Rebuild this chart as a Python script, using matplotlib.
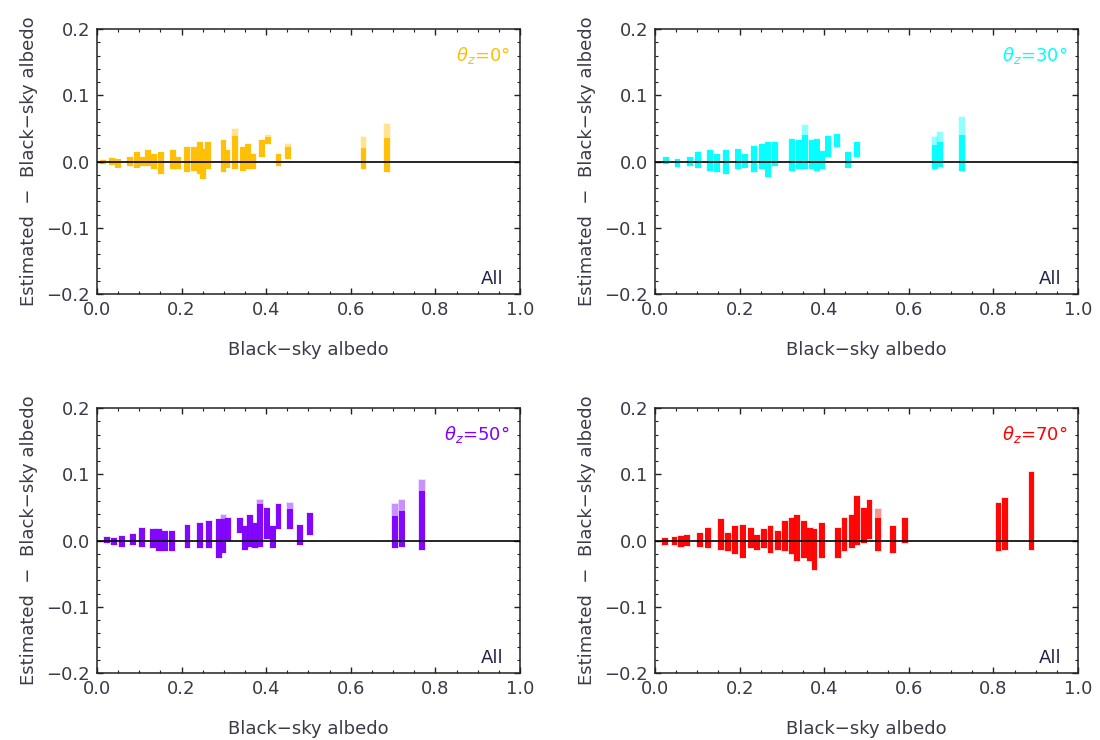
import matplotlib
matplotlib.use("Agg")
import matplotlib.pyplot as plt
from matplotlib.ticker import MultipleLocator

# Solar zenith angles and plotting colours for each panel
zenith_labels = [r"$\theta_z$=0°", r"$\theta_z$=30°", r"$\theta_z$=50°", r"$\theta_z$=70°"]
panel_colors = ["#FFBF00", "#00FFFF", "#8000FF", "#FF0000"]

# Residual spread per albedo column: (albedo, min residual, dense upper, sparse max)
streaks_0 = [
    (0.015, -0.003, 0.003, 0.003), (0.035, -0.005, 0.005, 0.005),
    (0.050, -0.009, 0.004, 0.004), (0.078, -0.006, 0.007, 0.007),
    (0.094, -0.009, 0.014, 0.014), (0.106, -0.006, 0.007, 0.007),
    (0.121, -0.006, 0.017, 0.017), (0.135, -0.011, 0.012, 0.012),
    (0.151, -0.019, 0.014, 0.014), (0.180, -0.011, 0.017, 0.017),
    (0.192, -0.011, 0.007, 0.007), (0.213, -0.016, 0.022, 0.022),
    (0.229, -0.014, 0.022, 0.022), (0.244, -0.019, 0.029, 0.029),
    (0.251, -0.026, 0.019, 0.019), (0.263, -0.011, 0.029, 0.029),
    (0.299, -0.016, 0.032, 0.032), (0.307, -0.009, 0.017, 0.017),
    (0.326, -0.011, 0.039, 0.049), (0.346, -0.014, 0.022, 0.022),
    (0.358, -0.011, 0.027, 0.027), (0.370, -0.011, 0.012, 0.012),
    (0.389, 0.007, 0.032, 0.032), (0.405, 0.027, 0.037, 0.040),
    (0.429, -0.006, 0.012, 0.012), (0.452, 0.004, 0.022, 0.027),
    (0.630, -0.011, 0.020, 0.037), (0.685, -0.016, 0.035, 0.057),
]
streaks_30 = [
    (0.025, -0.004, 0.007, 0.007), (0.053, -0.008, 0.004, 0.004),
    (0.083, -0.006, 0.007, 0.007), (0.102, -0.009, 0.014, 0.014),
    (0.130, -0.014, 0.018, 0.018), (0.147, -0.016, 0.012, 0.012),
    (0.167, -0.019, 0.017, 0.017), (0.197, -0.011, 0.019, 0.019),
    (0.213, -0.009, 0.012, 0.012), (0.234, -0.016, 0.024, 0.024),
    (0.252, -0.011, 0.027, 0.027), (0.268, -0.024, 0.029, 0.029),
    (0.284, -0.006, 0.029, 0.029), (0.323, -0.014, 0.034, 0.034),
    (0.341, -0.011, 0.032, 0.032), (0.355, -0.011, 0.040, 0.055),
    (0.370, -0.011, 0.032, 0.032), (0.382, -0.014, 0.034, 0.034),
    (0.394, -0.011, 0.016, 0.016), (0.410, 0.007, 0.039, 0.039),
    (0.430, 0.022, 0.042, 0.042), (0.457, -0.009, 0.014, 0.014),
    (0.477, 0.007, 0.029, 0.029), (0.662, -0.011, 0.025, 0.037),
    (0.674, -0.008, 0.030, 0.045), (0.725, -0.014, 0.040, 0.067),
]
streaks_50 = [
    (0.023, -0.004, 0.006, 0.006), (0.040, -0.006, 0.004, 0.004),
    (0.058, -0.009, 0.007, 0.007), (0.084, -0.006, 0.010, 0.010),
    (0.106, -0.009, 0.019, 0.019), (0.132, -0.011, 0.017, 0.017),
    (0.146, -0.016, 0.017, 0.017), (0.160, -0.016, 0.015, 0.015),
    (0.177, -0.016, 0.014, 0.014), (0.214, -0.011, 0.024, 0.024),
    (0.244, -0.011, 0.027, 0.027), (0.265, -0.011, 0.029, 0.029),
    (0.288, -0.026, 0.032, 0.032), (0.299, -0.019, 0.032, 0.039),
    (0.310, -0.001, 0.034, 0.034), (0.338, 0.012, 0.034, 0.034),
    (0.350, -0.014, 0.022, 0.022), (0.362, -0.009, 0.039, 0.039),
    (0.374, -0.011, 0.027, 0.027), (0.385, -0.009, 0.055, 0.062),
    (0.401, 0.002, 0.049, 0.049), (0.415, -0.011, 0.022, 0.022),
    (0.429, 0.017, 0.055, 0.055), (0.456, 0.017, 0.047, 0.057),
    (0.480, -0.006, 0.024, 0.024), (0.504, 0.009, 0.042, 0.042),
    (0.704, -0.011, 0.037, 0.055), (0.720, -0.009, 0.045, 0.062),
    (0.769, -0.014, 0.075, 0.092),
]
streaks_70 = [
    (0.024, -0.006, 0.004, 0.004), (0.046, -0.007, 0.005, 0.005),
    (0.062, -0.009, 0.007, 0.007), (0.076, -0.008, 0.008, 0.008),
    (0.107, -0.009, 0.012, 0.012), (0.126, -0.011, 0.019, 0.019),
    (0.156, -0.014, 0.032, 0.032), (0.173, -0.016, 0.012, 0.012),
    (0.189, -0.021, 0.022, 0.022), (0.207, -0.026, 0.024, 0.024),
    (0.227, -0.011, 0.019, 0.019), (0.241, -0.014, 0.009, 0.009),
    (0.257, -0.011, 0.017, 0.017), (0.273, -0.019, 0.022, 0.022),
    (0.290, -0.014, 0.014, 0.014), (0.307, -0.016, 0.029, 0.029),
    (0.323, -0.021, 0.034, 0.034), (0.335, -0.031, 0.039, 0.039),
    (0.353, -0.026, 0.029, 0.029), (0.366, -0.031, 0.019, 0.019),
    (0.377, -0.044, 0.017, 0.017), (0.394, -0.026, 0.027, 0.027),
    (0.432, -0.026, 0.019, 0.019), (0.448, -0.016, 0.034, 0.034),
    (0.465, -0.011, 0.039, 0.039), (0.478, -0.006, 0.067, 0.067),
    (0.493, -0.004, 0.049, 0.049), (0.507, 0.002, 0.062, 0.062),
    (0.528, -0.016, 0.034, 0.047), (0.562, -0.019, 0.022, 0.022),
    (0.591, -0.004, 0.034, 0.034), (0.812, -0.016, 0.057, 0.057),
    (0.827, -0.014, 0.065, 0.065), (0.890, -0.014, 0.103, 0.103),
]
panel_streaks = [streaks_0, streaks_30, streaks_50, streaks_70]

x_ticks = [0.0, 0.2, 0.4, 0.6, 0.8, 1.0]
y_ticks = [-0.2, -0.1, 0.0, 0.1, 0.2]

plt.rcParams["font.family"] = "DejaVu Sans"
label_color = "#3a3a48"

fig = plt.figure(figsize=(11, 7.4), dpi=100)
lefts = [0.0882, 0.5955, 0.0882, 0.5955]
bottoms = [0.6027, 0.6027, 0.0905, 0.0905]
w, h = 0.3845, 0.358

for i in range(4):
    ax = fig.add_axes([lefts[i], bottoms[i], w, h])
    color = panel_colors[i]
    xs = [s[0] for s in panel_streaks[i]]
    lo = [s[1] for s in panel_streaks[i]]
    hi = [s[2] for s in panel_streaks[i]]
    top = [s[3] for s in panel_streaks[i]]
    # soft halo reaching the sparse maxima, then the dense core of each column
    ax.bar(xs, [t - l + 0.003 for t, l in zip(top, lo)],
           bottom=[l - 0.0015 for l in lo], width=0.018,
           color=color, alpha=0.12, linewidth=0)
    ax.bar(xs, [t - l for t, l in zip(top, lo)], bottom=lo, width=0.014,
           color=color, alpha=0.35, linewidth=0)
    ax.bar(xs, [u - l for u, l in zip(hi, lo)], bottom=lo, width=0.014,
           color=color, alpha=0.95, linewidth=0)
    ax.axhline(0, color="black", lw=1.2, zorder=3)

    ax.set_xlim(0, 1)
    ax.set_ylim(-0.2, 0.2)
    ax.set_xticks(x_ticks)
    ax.set_yticks(y_ticks)
    ax.xaxis.set_minor_locator(MultipleLocator(0.05))
    ax.yaxis.set_minor_locator(MultipleLocator(0.02))
    ax.set_xticklabels([f"{v:.1f}" for v in x_ticks])
    ax.set_yticklabels([f"{v:.1f}".replace("-", "\u2212") for v in y_ticks])
    ax.tick_params(which="both", direction="in", top=True, right=True,
                   labelsize=13, labelcolor=label_color, color="#222222")
    ax.tick_params(which="major", length=4.5, width=1.0, pad=5)
    ax.tick_params(which="minor", length=2.5, width=0.8)
    for sp in ax.spines.values():
        sp.set_linewidth(1.1)
        sp.set_color("#222222")

    ax.set_xlabel("Black\u2212sky albedo", fontsize=13, color=label_color, labelpad=16)
    ax.set_ylabel("Estimated  \u2212  Black\u2212sky albedo", fontsize=13,
                  color=label_color, labelpad=6)

    ax.text(0.976, 0.90, zenith_labels[i], transform=ax.transAxes, ha="right",
            va="center", fontsize=13, color=color)
    ax.text(0.962, 0.057, "All", transform=ax.transAxes, ha="right",
            va="center", fontsize=13, color="#22224a")

fig.savefig("out.png", dpi=100)
